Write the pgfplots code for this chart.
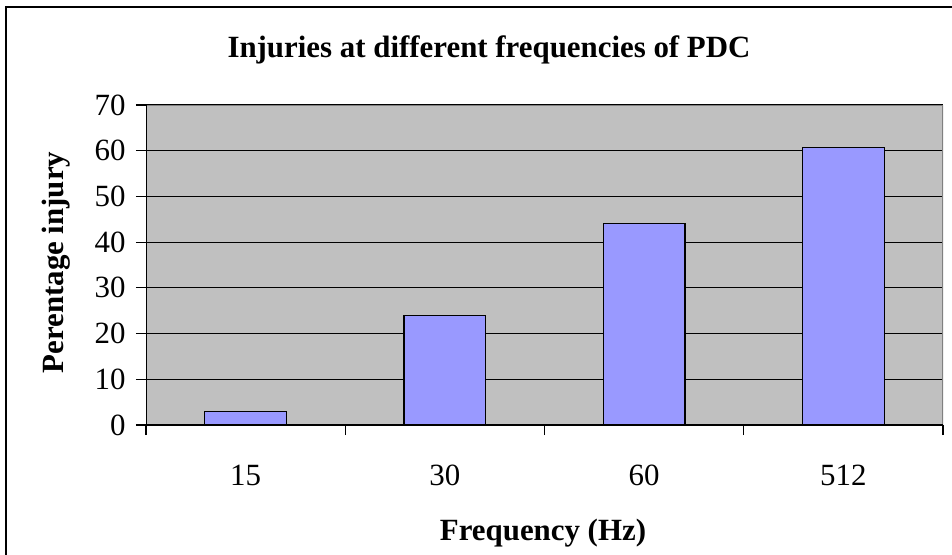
\documentclass[border=0pt]{standalone}
\usepackage{fontspec}
\setmainfont{Liberation Serif}
\usepackage{pgfplots}
\pgfplotsset{compat=1.18}
\definecolor{plotgray}{HTML}{C0C0C0}
\definecolor{barblue}{HTML}{9999FF}
\definecolor{edgegray}{HTML}{808080}
\begin{document}
\begin{tikzpicture}
\useasboundingbox (-146bp,-130bp) rectangle (806bp,425bp);
\draw[line width=2bp] (-140bp,-200bp) -- (-140bp,418bp) -- (900bp,418bp);
\begin{axis}[
  at={(0bp,0bp)}, anchor=south west,
  scale only axis, width=797bp, height=320bp,
  xmin=0, xmax=4, ymin=0, ymax=70,
  ytick={0,10,...,70},
  xtick={0,1,2,3,4},
  x tick label as interval,
  xticklabels={15,30,60,512},
  tick align=outside, major tick length=10bp,
  xtick pos=bottom, ytick pos=left,
  ymajorgrids, grid style={black, line width=1.2bp},
  axis background/.style={fill=plotgray},
  axis line style={draw=none},
  tick style={black, line width=1.2bp},
  ticklabel style={font=\fontsize{31}{31}\selectfont},
  xticklabel style={yshift=-26bp, text height=21bp, text depth=0bp},
  yticklabel style={xshift=-7bp},
  /pgf/number format/assume math mode=true,
]
\addplot[ybar, bar width=0.41, fill=barblue, draw=black, line width=1.2bp]
  coordinates {(0.5,3) (1.5,24) (2.5,44) (3.5,60.7)};
\draw[edgegray, line width=1.6bp] (rel axis cs:0,1) -- (rel axis cs:1,1) -- (rel axis cs:1,0);
\draw[black, line width=1.5bp] (rel axis cs:0,1) -- (rel axis cs:0,0) -- (rel axis cs:1,0);
\end{axis}
\node[anchor=base, font=\bfseries\fontsize{31}{31}\selectfont] at (343bp,367bp) {Injuries at different frequencies of PDC};
\node[anchor=base, font=\bfseries\fontsize{31}{31}\selectfont] at (397bp,-115bp) {Frequency (Hz)};
\node[anchor=base, rotate=90, font=\bfseries\fontsize{31}{31}\selectfont] at (-82bp,162.5bp) {Perentage injury};
\end{tikzpicture}
\end{document}
